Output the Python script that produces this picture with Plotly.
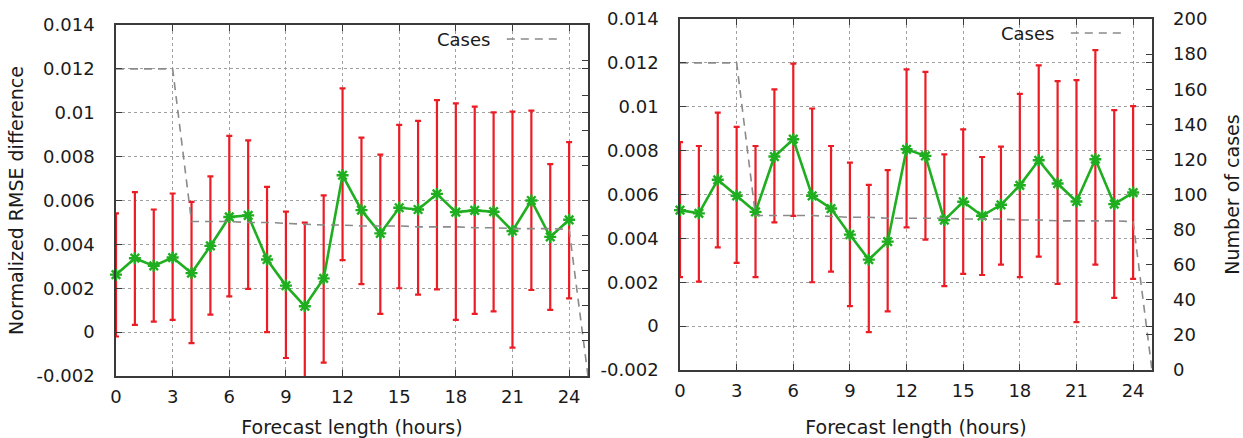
import plotly.graph_objects as go

# ---------------- data ----------------
hours = list(range(25))
case_hours = list(range(26))

left_mean = [0.00262, 0.00337, 0.00302, 0.00340, 0.00269, 0.00393, 0.00525, 0.00532, 0.00331,
             0.00212, 0.00118, 0.00245, 0.00715, 0.00556, 0.00450, 0.00567, 0.00559, 0.00630,
             0.00547, 0.00555, 0.00549, 0.00461, 0.00600, 0.00434, 0.00512]
left_high = [0.00541, 0.00638, 0.00559, 0.00632, 0.00594, 0.00710, 0.00895, 0.00874, 0.00662,
             0.00549, 0.00499, 0.00623, 0.01111, 0.00887, 0.00809, 0.00945, 0.00963, 0.01058,
             0.01043, 0.01028, 0.01002, 0.01005, 0.01010, 0.00766, 0.00866]
left_low = [-0.00020, 0.00033, 0.00048, 0.00056, -0.00050, 0.00080, 0.00163, 0.00197, 0.00000,
            -0.00118, -0.00260, -0.00139, 0.00328, 0.00219, 0.00083, 0.00200, 0.00171, 0.00195,
            0.00056, 0.00083, 0.00095, -0.00071, 0.00192, 0.00101, 0.00154]
left_cases = [175, 175, 175, 175, 88, 88, 88, 87.5, 87.5, 87, 86.5, 86, 86, 85.5, 85.5, 85.5,
              85, 85, 85, 84.5, 84.5, 84, 84, 84, 83.5, 0]

right_mean = [0.00529, 0.00514, 0.00667, 0.00594, 0.00521, 0.00773, 0.00852, 0.00594, 0.00536,
              0.00417, 0.00303, 0.00385, 0.00806, 0.00776, 0.00483, 0.00567, 0.00503, 0.00553,
              0.00642, 0.00756, 0.00650, 0.00568, 0.00761, 0.00556, 0.00609]
right_high = [0.00839, 0.00821, 0.00973, 0.00908, 0.00821, 0.01079, 0.01197, 0.00992, 0.00821,
              0.00745, 0.00644, 0.00711, 0.01170, 0.01159, 0.00783, 0.00897, 0.00771, 0.00818,
              0.01059, 0.01189, 0.01117, 0.01121, 0.01258, 0.00985, 0.01003]
right_low = [0.00223, 0.00203, 0.00359, 0.00288, 0.00223, 0.00473, 0.00503, 0.00200, 0.00248,
             0.00091, -0.00027, 0.00067, 0.00450, 0.00394, 0.00182, 0.00238, 0.00233, 0.00280,
             0.00223, 0.00317, 0.00192, 0.00018, 0.00280, 0.00129, 0.00215]
right_cases = [175, 175, 175, 175, 88, 88, 88, 88, 87.5, 87, 87, 86.5, 86.5, 86.5, 86.5, 86,
               86, 86, 85.5, 85.5, 85, 85, 85, 85, 84.5, 0]

x_tick_vals = [0, 3, 6, 9, 12, 15, 18, 21, 24]
y_tick_vals = [-0.002, 0, 0.002, 0.004, 0.006, 0.008, 0.010, 0.012, 0.014]
y_tick_text = ["-0.002", "0", "0.002", "0.004", "0.006", "0.008", "0.01", "0.012", "0.014"]
case_tick_vals = [0, 20, 40, 60, 80, 100, 120, 140, 160, 180, 200]

x_title = "Forecast length (hours)"
y_title = "Normalized RMSE difference"
y2_title = "Number of cases"
legend_label = "Cases"

# ---------------- style ----------------
FONT = "DejaVu Sans"
TXT = "#1a1a1a"
FRAME = "#3a3a3a"
GRID = "#a0a0a0"
RED = "#ec1c24"
GREEN = "#1fae1f"
CASES_COL = "#8a8a8a"
TICK_SIZE = 18
TITLE_SIZE = 19

fig = go.Figure()


def add_panel(xa, ya, ya_cases, mean, low, high, cases):
    fig.add_trace(go.Scatter(
        x=case_hours, y=cases, xaxis=xa, yaxis=ya_cases, mode="lines",
        line=dict(color=CASES_COL, width=1.6, dash="8px,6px"),
        showlegend=False, hoverinfo="skip"))
    fig.add_trace(go.Scatter(
        x=hours, y=mean, xaxis=xa, yaxis=ya, mode="markers",
        marker=dict(size=1, opacity=0),
        error_y=dict(type="data", symmetric=False,
                     array=[h - m for h, m in zip(high, mean)],
                     arrayminus=[m - l for m, l in zip(mean, low)],
                     color=RED, thickness=2.2, width=3),
        showlegend=False, hoverinfo="skip"))
    fig.add_trace(go.Scatter(
        x=hours, y=mean, xaxis=xa, yaxis=ya, mode="lines+markers",
        line=dict(color=GREEN, width=2.6),
        marker=dict(symbol="asterisk-open", size=10,
                    line=dict(color="#2f9a2f", width=2.4)),
        cliponaxis=False, showlegend=False))


add_panel("x", "y", "y3", left_mean, left_low, left_high, left_cases)
add_panel("x2", "y2", "y4", right_mean, right_low, right_high, right_cases)

W, H = 1243, 438
# plot-area pixel boxes (left, right, top, bottom)
L_box = (116, 588, 25, 376)
R_box = (680, 1152, 19, 370)


def xdom(b):
    return [b[0] / W, b[1] / W]


def ydom(b):
    return [(H - b[3]) / H, (H - b[2]) / H]


xcommon = dict(range=[0, 25], tickmode="array", tickvals=x_tick_vals, automargin=False,
               ticks="inside", ticklen=6, tickwidth=1, tickcolor=FRAME,
               showline=True, linecolor=FRAME, linewidth=1.5, mirror="ticks",
               showgrid=True, gridcolor=GRID, griddash="dot", gridwidth=1,
               zeroline=False, tickfont=dict(family=FONT, size=TICK_SIZE, color=TXT),
               title=dict(text=x_title, font=dict(family=FONT, size=TITLE_SIZE, color=TXT), standoff=22),
               ticklabelstandoff=4)
ycommon = dict(range=[-0.002, 0.014], tickmode="array", tickvals=y_tick_vals, ticktext=y_tick_text,
               automargin=False,
               ticks="inside", ticklen=6, tickwidth=1, tickcolor=FRAME,
               showline=True, linecolor=FRAME, linewidth=1.5, mirror="ticks",
               showgrid=True, gridcolor=GRID, griddash="dot", gridwidth=1,
               zeroline=False, tickfont=dict(family=FONT, size=TICK_SIZE, color=TXT),
               ticklabelstandoff=16)
ccommon = dict(range=[0, 200], tickmode="array", tickvals=case_tick_vals, side="right",
               automargin=False,
               ticks="inside", ticklen=6, tickwidth=1, tickcolor=FRAME,
               showline=False, showgrid=False, zeroline=False,
               tickfont=dict(family=FONT, size=TICK_SIZE, color=TXT), ticklabelstandoff=20)

fig.update_layout(
    width=W, height=H, margin=dict(l=0, r=0, t=0, b=0, autoexpand=False),
    paper_bgcolor="white", plot_bgcolor="white", showlegend=False,
    xaxis=dict(domain=xdom(L_box), anchor="y", **xcommon),
    yaxis=dict(domain=ydom(L_box), anchor="x",
               title=dict(text=y_title, font=dict(family=FONT, size=TITLE_SIZE, color=TXT), standoff=8),
               **ycommon),
    yaxis3=dict(overlaying="y", anchor="x", showticklabels=False, **ccommon),
    xaxis2=dict(domain=xdom(R_box), anchor="y2", **xcommon),
    yaxis2=dict(domain=ydom(R_box), anchor="x2", **ycommon),
    yaxis4=dict(overlaying="y2", anchor="x2",
                title=dict(text=y2_title, font=dict(family=FONT, size=TITLE_SIZE, color=TXT), standoff=20),
                **ccommon),
)

# legend entries (gnuplot style: label then sample on the right)
for xa, ya in (("x", "y"), ("x2", "y2")):
    fig.add_annotation(text=legend_label, xref=f"{xa} domain", yref=f"{ya} domain",
                       x=0.797, y=0.96, xanchor="right", yanchor="middle", showarrow=False,
                       font=dict(family=FONT, size=TICK_SIZE, color=TXT))
    fig.add_shape(type="line", xref=f"{xa} domain", yref=f"{ya} domain",
                  x0=0.828, x1=0.944, y0=0.96, y1=0.96,
                  line=dict(color=CASES_COL, width=1.6, dash="8px,6px"))

fig.write_html("out.html", config={"displayModeBar": False},
               post_script="document.body.style.margin='0';")
